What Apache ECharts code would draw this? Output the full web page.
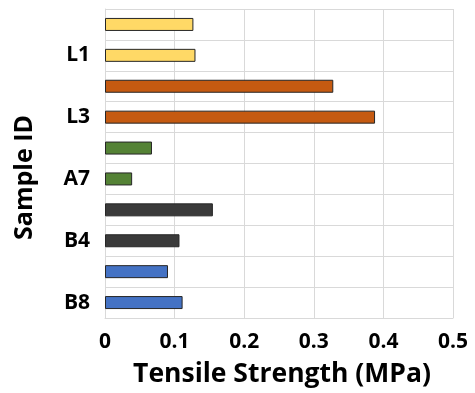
<!DOCTYPE html>
<html>
<head>
<meta charset="utf-8">
<script src="https://cdn.jsdelivr.net/npm/echarts@6/dist/echarts.min.js"></script>
<style>
html,body{margin:0;padding:0;background:#fff;}
#chart{width:475px;height:393px;}
</style>
</head>
<body>
<div id="chart"></div>
<script>
// Data
const categories = ["L1 #1", "L1", "L3 #1", "L3", "A7 #1", "A7", "B4 #1", "B4", "B8 #1", "B8"];
const yTickLabels = ["", "L1", "", "L3", "", "A7", "", "B4", "", "B8"];
const tensileStrength = [0.127, 0.130, 0.328, 0.388, 0.0675, 0.039, 0.155, 0.107, 0.0905, 0.1115];
const xTickMin = 0, xTickMax = 0.5, xTickStep = 0.1;

// Styles
const barColors = ["#FFD966", "#FFD966", "#C55A11", "#C55A11", "#548235", "#548235", "#3A3A3A", "#3A3A3A", "#4472C4", "#4472C4"];
const FONT = "'Open Sans', 'DejaVu Sans', sans-serif";
const gridColor = "#d9d9d9";

const chart = echarts.init(document.getElementById('chart'), null, {renderer: 'canvas'});
chart.setOption({
  animation: false,
  backgroundColor: '#fff',
  grid: {left: 105, right: 22, top: 9, bottom: 75, containLabel: false, outerBoundsMode: 'none'},
  xAxis: {
    type: 'value',
    min: xTickMin, max: xTickMax, interval: xTickStep,
    name: 'Tensile Strength (MPa)',
    nameLocation: 'middle',
    nameGap: 43,
    nameTextStyle: {fontFamily: FONT, fontWeight: 'bold', fontSize: 26.5, color: '#000', padding: [0, 0, 0, 6]},
    axisLine: {show: true, lineStyle: {color: gridColor, width: 1}},
    axisTick: {show: false},
    axisLabel: {fontFamily: FONT, fontWeight: 'bold', fontSize: 21, color: '#000', margin: 14,
      formatter: v => String(Math.round(v * 10) / 10)},
    splitLine: {show: true, lineStyle: {color: gridColor, width: 1}}
  },
  yAxis: {
    type: 'category',
    data: categories,
    inverse: true,
    axisLine: {show: true, lineStyle: {color: gridColor, width: 1}},
    axisTick: {show: false},
    axisLabel: {fontFamily: FONT, fontWeight: 'bold', fontSize: 21, color: '#000', margin: 15, interval: 0,
      formatter: (v, i) => yTickLabels[i]},
    splitLine: {show: true, lineStyle: {color: gridColor, width: 1}}
  },
  graphic: [{
    type: 'text',
    left: 12, top: 115,
    rotation: Math.PI / 2,
    originX: 0, originY: 0,
    style: {text: 'Sample ID', font: "bold 25px 'Open Sans', sans-serif", fill: '#000'}
  }],
  series: [{
    type: 'bar',
    barWidth: 13,
    data: tensileStrength.map((v, i) => ({value: v, itemStyle: {color: barColors[i]}})),
    itemStyle: {borderColor: '#262626', borderWidth: 1}
  }]
});
</script>
</body>
</html>
